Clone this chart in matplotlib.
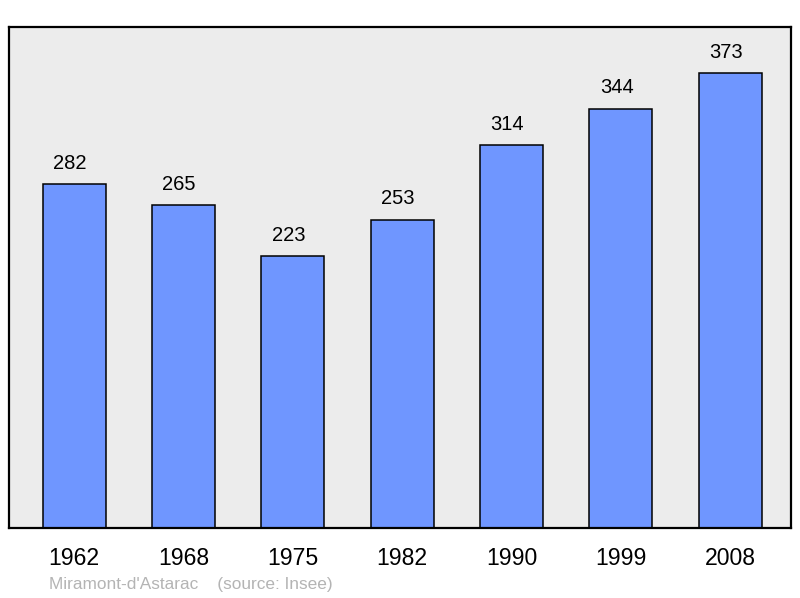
import matplotlib
matplotlib.use("Agg")
import matplotlib.pyplot as plt

# population data
years = ["1962", "1968", "1975", "1982", "1990", "1999", "2008"]
population = [282, 265, 223, 253, 314, 344, 373]
place = "Miramont-d'Astarac"
source = "(source: Insee)"

plt.rcParams['font.family'] = ['Liberation Sans', 'DejaVu Sans']

fig = plt.figure(figsize=(8, 5.98), dpi=100)
ax = fig.add_axes([9 / 800, 70 / 598, 782 / 800, 501 / 598])
ax.set_facecolor('#ececec')

x = range(len(years))
ax.bar(x, population, width=0.576, color='#6f96ff', edgecolor='black',
       linewidth=1.1, zorder=2)

# value labels above each bar
for xi, val in zip(x, population):
    ax.annotate(str(val), (xi, val), xytext=(-3, 11), textcoords='offset points',
                ha='center', va='baseline', fontsize=14.5, color='black')

ax.set_xlim(-0.595, 6.557)
ax.set_ylim(0, 411)
ax.set_xticks(list(x))
ax.set_xticklabels(years, fontsize=16.6)
ax.tick_params(axis='x', length=0, pad=14)
ax.set_yticks([])
for sp in ax.spines.values():
    sp.set_linewidth(1.6)
    sp.set_color('black')

fig.text(49 / 800, 1 - 589 / 598, place + "    " + source, fontsize=12.4,
         color='#b4b4b4', ha='left', va='baseline')

fig.savefig('out.png', dpi=100)
